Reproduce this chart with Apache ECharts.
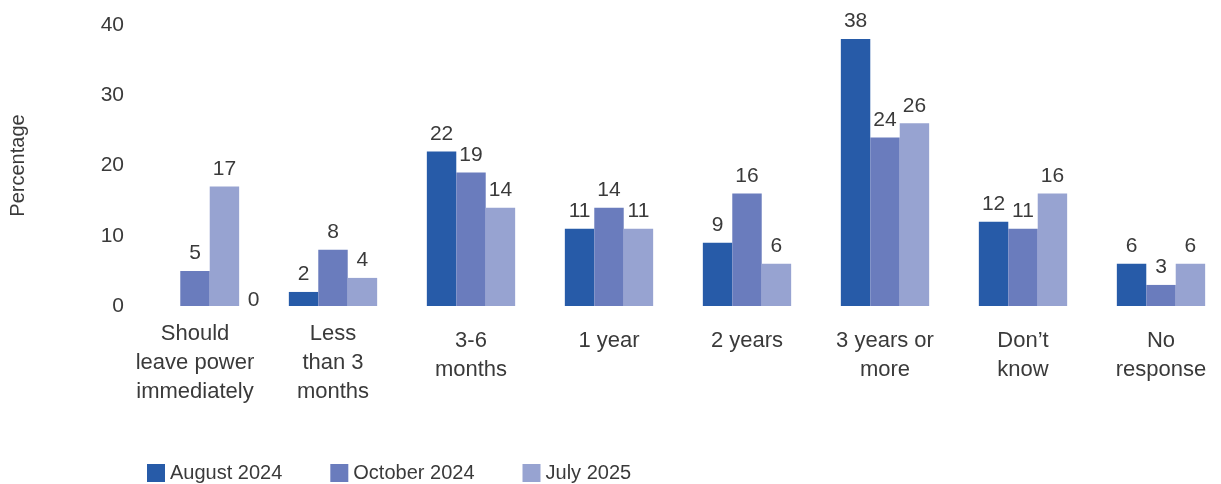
<!DOCTYPE html>
<html>
<head>
<meta charset="utf-8">
<script src="https://cdn.jsdelivr.net/npm/echarts@6/dist/echarts.min.js"></script>
<style>
  html, body { margin: 0; padding: 0; background: #fff; }
  #chart { width: 1221px; height: 484px; }
</style>
</head>
<body>
<div id="chart"></div>
<script>
// Expected time frame for leaving power, share of respondents per survey wave
const categories = [
  'Should\nleave power\nimmediately',
  'Less\nthan 3\nmonths',
  '3-6\nmonths',
  '1 year',
  '2 years',
  '3 years or\nmore',
  'Don\u2019t\nknow',
  'No\nresponse'
];
const seriesNames = ['August 2024', 'October 2024', 'July 2025'];
const aug2024 = [0, 2, 22, 11, 9, 38, 12, 6];
const oct2024 = [5, 8, 19, 14, 16, 24, 11, 3];
const jul2025 = [17, 4, 14, 11, 6, 26, 16, 6];
const yTicks = [0, 10, 20, 30, 40];

const colors = ['#275ba8', '#6a7cbd', '#97a3d1'];
const FONT = 'Liberation Sans, Arial, sans-serif';
const TEXT = '#3a3a3a';

const chart = echarts.init(document.getElementById('chart'), null, { renderer: 'canvas' });

// three-line category labels sit a little higher than the others
const catData = categories.map(c => {
  const lines = c.split('\n').length;
  return lines === 3 ? { value: c, textStyle: { padding: [-7, 0, 0, 0] } } : c;
});

function makeSeries(name, values, idx) {
  return {
    name: name,
    type: 'bar',
    barGap: '0%',
    barCategoryGap: '36%',
    itemStyle: { color: colors[idx] },
    label: {
      show: true,
      position: 'top',
      distance: 7,
      color: TEXT,
      fontFamily: FONT,
      fontSize: 21
    },
    data: values.map((v, i) => {
      // the zero for the first category is printed to the right of its group
      if (idx === 0 && v === 0) {
        return { value: v, label: { offset: [88, 12] } };
      }
      return v;
    })
  };
}

chart.setOption({
  animation: false,
  textStyle: { fontFamily: FONT },
  grid: {
    left: 126, width: 1104, top: 25, height: 281,
    containLabel: false,
    outerBoundsMode: 'none'
  },
  legend: {
    data: seriesNames,
    left: 147,
    top: 463,
    padding: 0,
    itemWidth: 18,
    itemHeight: 18,
    itemGap: 48,
    icon: 'rect',
    textStyle: { color: TEXT, fontFamily: FONT, fontSize: 20, padding: [3, 0, 0, 0] }
  },
  xAxis: {
    type: 'category',
    data: catData,
    axisLine: { show: false },
    axisTick: { show: false },
    axisLabel: {
      interval: 0,
      color: TEXT,
      fontFamily: FONT,
      fontSize: 22,
      lineHeight: 29,
      margin: 20,
      verticalAlign: 'top'
    }
  },
  yAxis: {
    type: 'value',
    min: yTicks[0],
    max: yTicks[yTicks.length - 1],
    interval: yTicks[1] - yTicks[0],
    name: 'Percentage',
    nameLocation: 'middle',
    nameGap: 98,
    nameRotate: 90,
    nameTextStyle: { color: TEXT, fontFamily: FONT, fontSize: 20 },
    splitLine: { show: false },
    axisLine: { show: false },
    axisTick: { show: false },
    axisLabel: { color: TEXT, fontFamily: FONT, fontSize: 21, margin: 2 }
  },
  series: [
    makeSeries(seriesNames[0], aug2024, 0),
    makeSeries(seriesNames[1], oct2024, 1),
    makeSeries(seriesNames[2], jul2025, 2)
  ]
});
</script>
</body>
</html>
